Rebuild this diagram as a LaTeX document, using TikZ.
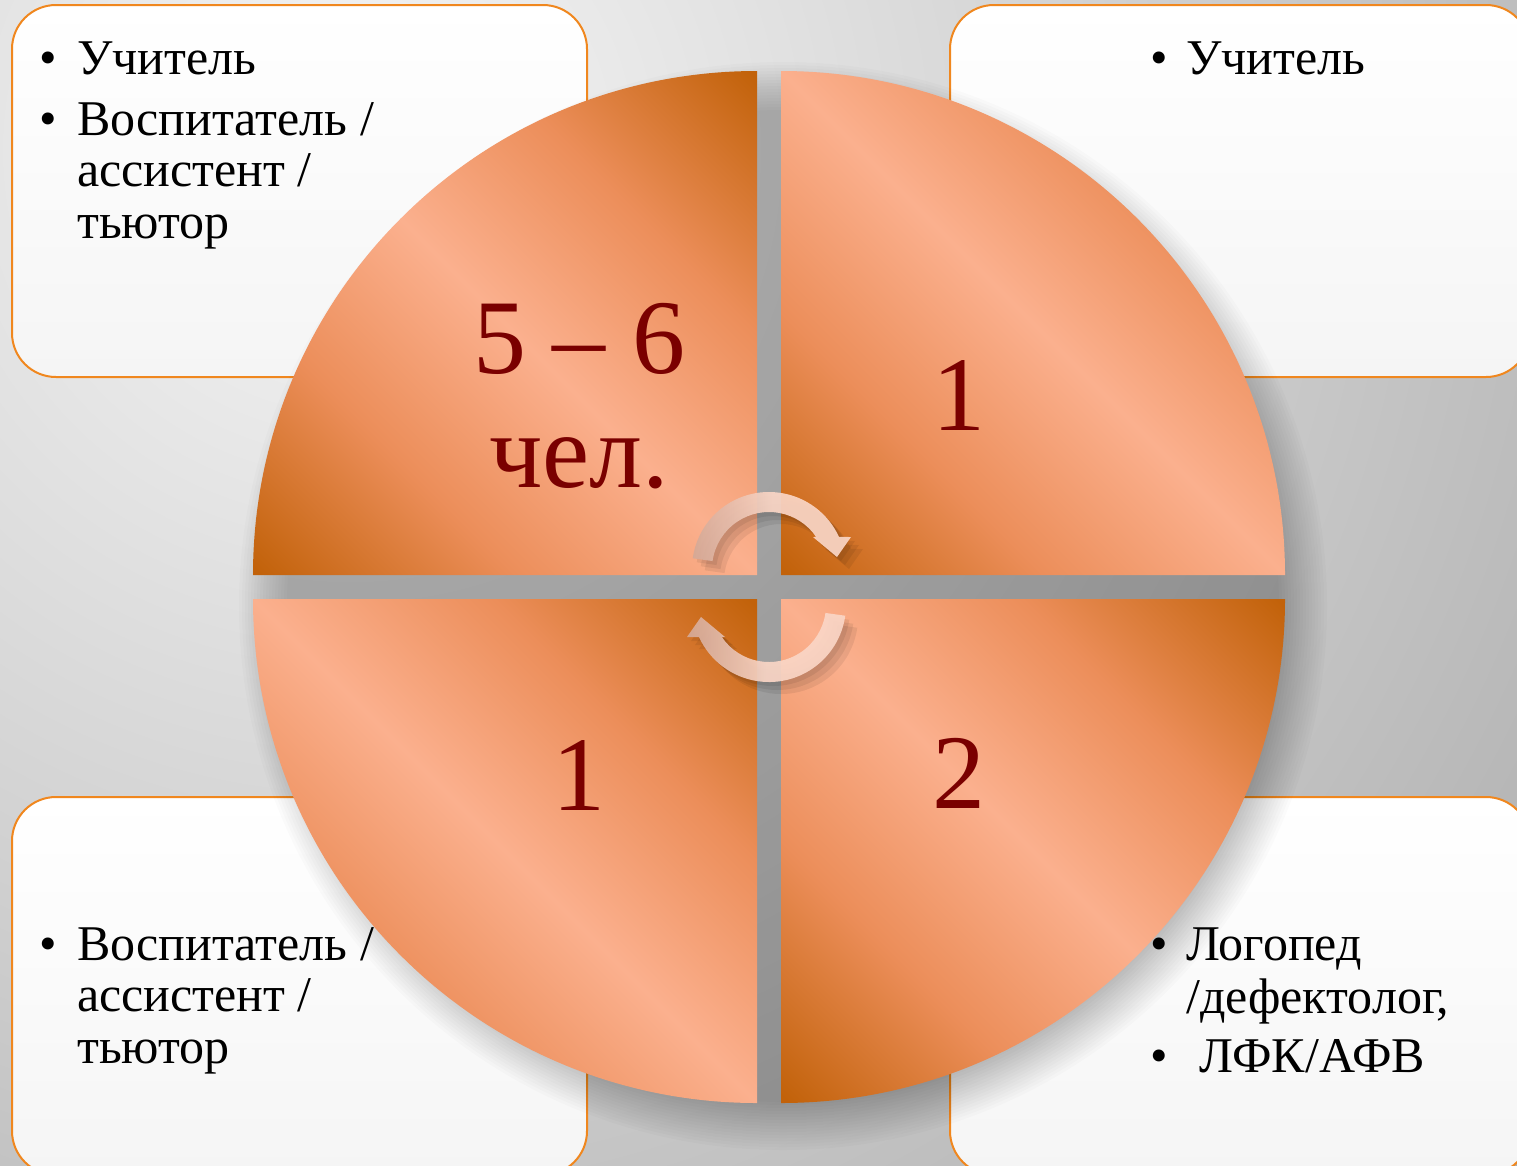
\documentclass[tikz,border=0pt]{standalone}
\usepackage{fontspec}
\setmainfont{Liberation Serif}
\definecolor{bgin}{RGB}{246,246,246}
\definecolor{bgout}{RGB}{170,170,170}
\definecolor{boxline}{RGB}{240,135,30}
\definecolor{boxbot}{RGB}{245,245,245}
\definecolor{qdark}{RGB}{194,98,10}
\definecolor{qmid}{RGB}{236,142,90}
\definecolor{qlight}{RGB}{251,176,142}
\definecolor{numred}{RGB}{122,0,0}
\definecolor{arrowc}{RGB}{250,214,198}
\definecolor{arrowtail}{RGB}{212,168,150}
\pgfdeclarehorizontalshading{quadsh}{100bp}{color(0bp)=(qdark); color(15bp)=(qdark); color(33bp)=(qmid); color(50bp)=(qlight); color(67bp)=(qmid); color(85bp)=(qdark); color(100bp)=(qdark)}
\newcommand\myarrowpath{(692.75,558.28) arc[start angle=188,end angle=335.4,radius=77] -- (851,537) -- (837,557) -- (813,537) -- (816.14,536.96) arc[start angle=325.8,end angle=188,radius=57] -- cycle}
\begin{document}
\begin{tikzpicture}[x=1bp,y=-1bp,
  box/.style={draw=boxline, line width=2bp, rounded corners=44bp, top color=white, bottom color=boxbot},
  quad/.style={shading=quadsh, shading angle=45},
  txt/.style={font=\fontsize{50bp}{50bp}\selectfont, anchor=base west, inner sep=0pt},
  num/.style={font=\fontsize{106bp}{106bp}\selectfont, text=numred, anchor=base, inner sep=0pt},
  arrowfill/.style={left color=arrowtail, right color=arrowc, middle color=arrowc, fill opacity=0.92},
  arrowshadow/.style={fill=black, opacity=0.07}]
\useasboundingbox (0,0) rectangle (1517,1165);
\begin{scope}
\clip (0,0) rectangle (1517,1165);
% background
\shade[inner color=bgin, outer color=bgout] (350,150) circle (1600);
% boxes
\path[box] (12,5) rectangle (587,377);
\path[box] (950,5) rectangle (1530,377);
\path[box] (12,797) rectangle (587,1175);
\path[box] (950,797) rectangle (1530,1175);
% circle shadow
\foreach \r in {496,499,...,544} {
  \fill[black, opacity=0.015] (783,606) circle (\r);
}
% box texts
\node[txt] (b1) at (39,74) {•};
\node[txt] (t1) at (77,74) {Учитель};
\node[txt] (b2) at (39,135) {•};
\node[txt] (t2) at (77,135) {Воспитатель /};
\node[txt] (t3) at (77,186) {ассистент /};
\node[txt] (t4) at (77,238) {тьютор};
\node[txt] (b3) at (1150,74) {•};
\node[txt] (t5) at (1186,74) {Учитель};
\node[txt] (b4) at (39,960) {•};
\node[txt] (t6) at (77,960) {Воспитатель /};
\node[txt] (t7) at (77,1011) {ассистент /};
\node[txt] (t8) at (77,1063) {тьютор};
\node[txt] (b5) at (1150,960) {•};
\node[txt] (t9) at (1186,960) {Логопед};
\node[txt] (t10) at (1186,1013) {/дефектолог,};
\node[txt] (b6) at (1150,1072) {•};
\node[txt] (t11) at (1199,1072) {ЛФК/АФВ};
% quadrants
\path[quad] (757,575) -- (253,575) arc[start angle=180,end angle=270,radius=504] -- cycle;
\path[quad] (781,575) -- (781,71) arc[start angle=270,end angle=360,radius=504] -- cycle;
\path[quad] (781,599) -- (1285,599) arc[start angle=0,end angle=90,radius=504] -- cycle;
\path[quad] (757,599) -- (757,1103) arc[start angle=90,end angle=180,radius=504] -- cycle;
% numbers
\node[num] (n1) at (579,373) {5 – 6};
\node[num] (n2) at (579,487) {чел.};
\node[num] (n3) at (959,430) {1};
\node[num] (n4) at (959,808) {2};
\node[num] (n5) at (579,810) {1};
% arrow shadows
\foreach \d in {4,8,12} {
  \path[arrowshadow, shift={(\d,\d)}] \myarrowpath;
  \path[arrowshadow, shift={(\d,\d)}, rotate around={180:(769,587)}] \myarrowpath;
}
% arrows
\path[arrowfill] \myarrowpath;
\begin{scope}[rotate around={180:(769,587)}]
\path[arrowfill] \myarrowpath;
\end{scope}
\end{scope}
\end{tikzpicture}
\end{document}
